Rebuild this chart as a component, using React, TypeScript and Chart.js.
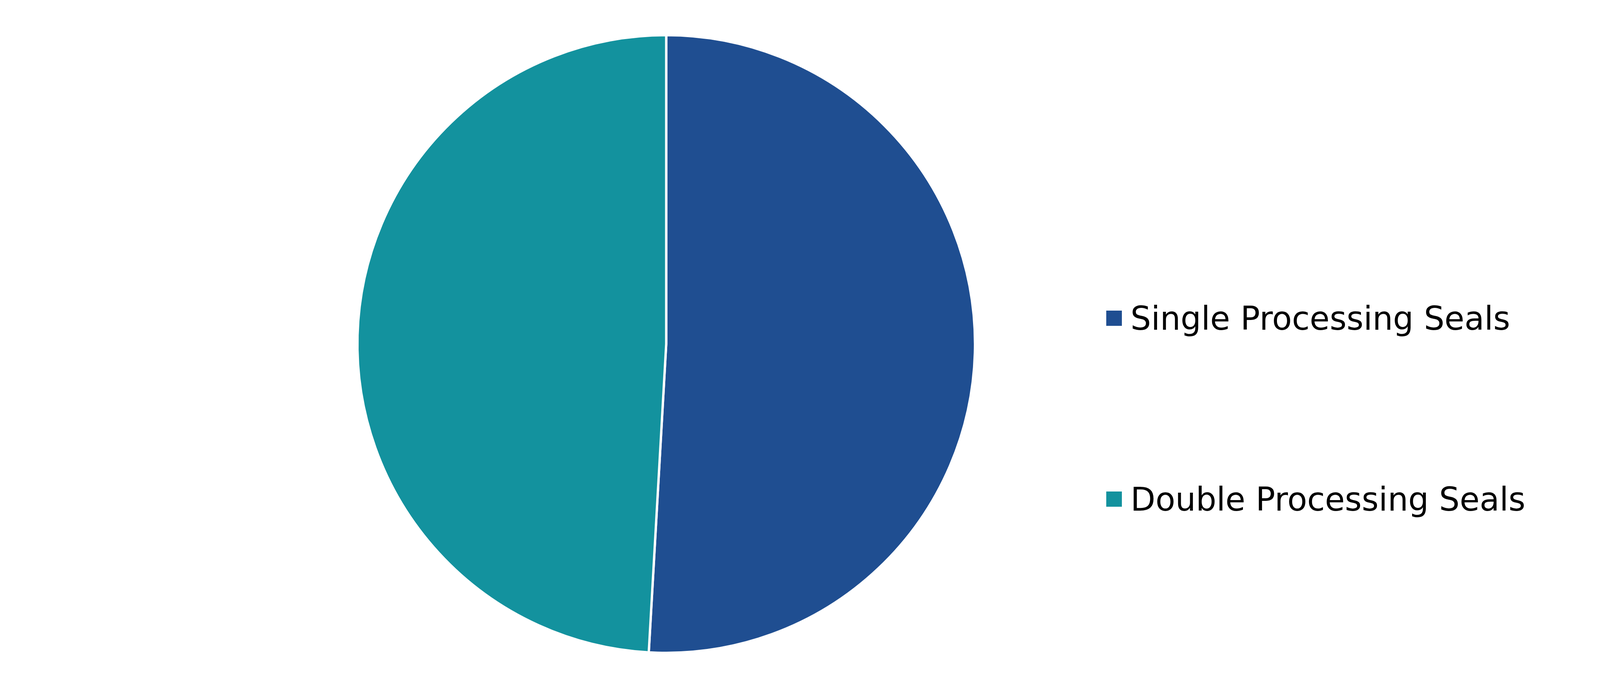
import React, { useEffect, useRef } from "react";
import { Chart, registerables } from "chart.js";
Chart.register(...registerables);

/** ---------- Data ---------- */
const categories = ["Single Processing Seals", "Double Processing Seals"];
const shares = [50.9, 49.1];
const colors = ["#1F4E91", "#13929E"];

const PAGE_H = 1784;

export default function App() {
  const canvasRef = useRef<HTMLCanvasElement | null>(null);
  // canvas fills the page minus the default 8px body margin
  const W = (typeof window !== "undefined" ? window.innerWidth : 4501) - 16;
  const H = PAGE_H - 16;

  useEffect(() => {
    const canvas = canvasRef.current;
    if (!canvas) return;

    // pie centre in canvas coords
    const cx = 1697.5;
    const cy = 872.5;

    // legend to the right of the pie, one row per category
    const sideLegend = {
      id: "side-legend",
      afterDraw(chart: any) {
        const { ctx } = chart;
        ctx.save();
        ctx.font = "83px 'DejaVu Sans', Verdana, sans-serif";
        ctx.textBaseline = "alphabetic";
        ctx.textAlign = "left";
        categories.forEach((label, i) => {
          const top = 787 + i * 463;
          ctx.fillStyle = colors[i];
          ctx.fillRect(2824, top, 40, 39);
          ctx.fillStyle = "#000";
          ctx.fillText(label, 2886, top + 49);
        });
        ctx.restore();
      },
    };

    const chart = new Chart(canvas, {
      type: "pie",
      data: {
        labels: categories,
        datasets: [
          {
            data: shares,
            backgroundColor: colors,
            borderColor: "#ffffff",
            borderWidth: 6,
          },
        ],
      },
      options: {
        responsive: true,
        maintainAspectRatio: false,
        animation: false,
        radius: 790.5,
        layout: {
          padding: { top: 0, left: 0, right: W - 2 * cx, bottom: H - 2 * cy },
        },
        plugins: {
          legend: { display: false },
          tooltip: { enabled: false },
        },
      } as any,
      plugins: [sideLegend],
    });
    return () => chart.destroy();
  }, [W, H]);

  return (
    <div style={{ position: "relative", width: W, height: H, background: "#fff" }}>
      <canvas ref={canvasRef} role="img" aria-label="Processing seals share pie chart" />
    </div>
  );
}
